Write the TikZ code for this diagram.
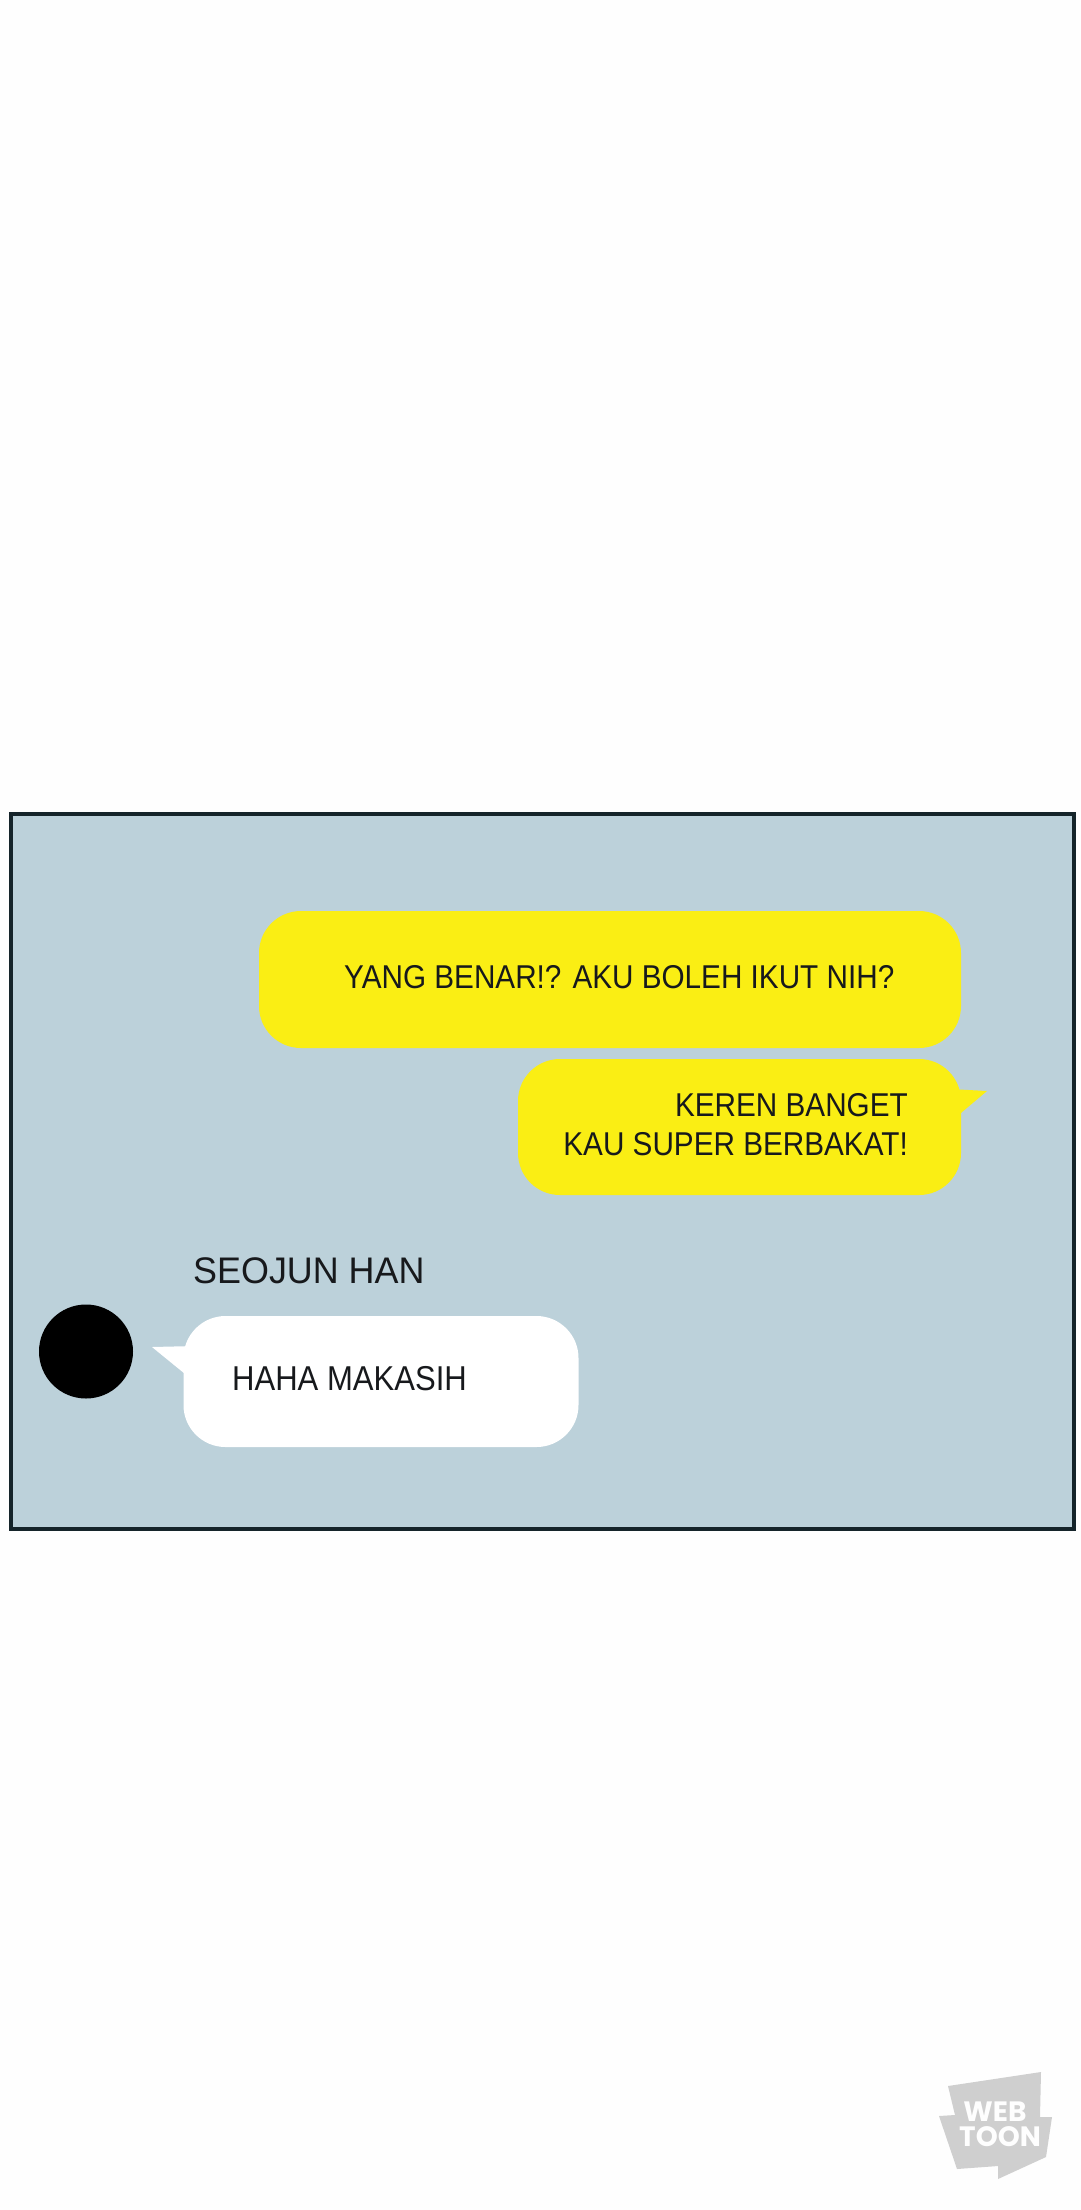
\documentclass[tikz,border=0pt]{standalone}
\usepackage{fontspec}
\setmainfont{Liberation Sans}
\newfontfamily\chatfont[FakeStretch=0.9]{Liberation Sans}
\newfontfamily\namefont[FakeStretch=0.97]{Liberation Sans}
\newfontfamily\logofont{Poppins}
\usetikzlibrary{positioning}
\definecolor{pagewhite}{HTML}{FEFEFE}
\definecolor{panelblue}{HTML}{BCD1DA}
\definecolor{panelline}{HTML}{15242A}
\definecolor{chatyellow}{HTML}{FAEE14}
\definecolor{chatink}{HTML}{17191C}
\definecolor{logogray}{HTML}{CFCFCF}
\tikzset{
  bubble/.style={rectangle, rounded corners=42pt, inner sep=0pt},
  chattext/.style={inner sep=0pt, text=chatink, font=\chatfont\fontsize{33}{39}\selectfont},
  logotext/.style={inner sep=0pt, text=pagewhite, font=\logofont\bfseries\fontsize{28}{28}\selectfont},
}
\begin{document}
\begin{tikzpicture}[x=1pt, y=-1pt]
  \useasboundingbox (0,0) rectangle (1080,2210);
  \fill[pagewhite] (0,0) rectangle (1080,2210);
  \node[draw=panelline, line width=3.5pt, fill=panelblue, minimum width=1063pt, minimum height=715pt, inner sep=0pt] (panel) at (542.5,1171.5) {};

  \node[bubble, fill=chatyellow, minimum width=702pt, minimum height=137pt] (yang) at (610,979.5) {};
  \node[bubble, fill=chatyellow, minimum width=443pt, minimum height=136pt] (keren) at (739.5,1127) {};
  \node[bubble, fill=white, minimum width=395pt, minimum height=131pt] (haha) at (381,1381.5) {};
  \node[circle, fill=black, minimum size=94pt, inner sep=0pt] (avatar) at (86,1351.5) {};

  % tails of the two bubbles
  \coordinate (kerentip) at (987,1091);
  \coordinate (hahatip) at (152,1347);
  \fill[chatyellow] (950,1089) -- (kerentip) -- (955,1118) -- cycle;
  \fill[white] (195,1346) -- (hahatip) -- (190,1378) -- cycle;

  \node[chattext, anchor=base west] (yangtext) at (344,988) {YANG BENAR!? AKU BOLEH IKUT NIH?};
  \node[chattext, anchor=base east, align=right] (kerentext) at (908,1155) {KEREN BANGET\\KAU SUPER BERBAKAT!};
  \node[chattext, anchor=base west, font=\namefont\fontsize{37}{39}\selectfont] (name) at (193,1283.5) {SEOJUN HAN};
  \node[chattext, anchor=base west, font=\chatfont\fontsize{34.5}{39}\selectfont] (hahatext) at (232,1390) {HAHA MAKASIH};

  % logo
  \fill[logogray] (948,2086) -- (1041,2072) -- (1040,2117) -- (1052,2117) -- (1046,2157) -- (998,2179) -- (998,2166) -- (957,2169) -- (939,2116) -- (955,2115) -- cycle;
  \node[logotext] (web) at (995,2112) {WEB};
  \node[logotext, below=4pt of web, xshift=5pt] (toon) {TOON};
\end{tikzpicture}
\end{document}
